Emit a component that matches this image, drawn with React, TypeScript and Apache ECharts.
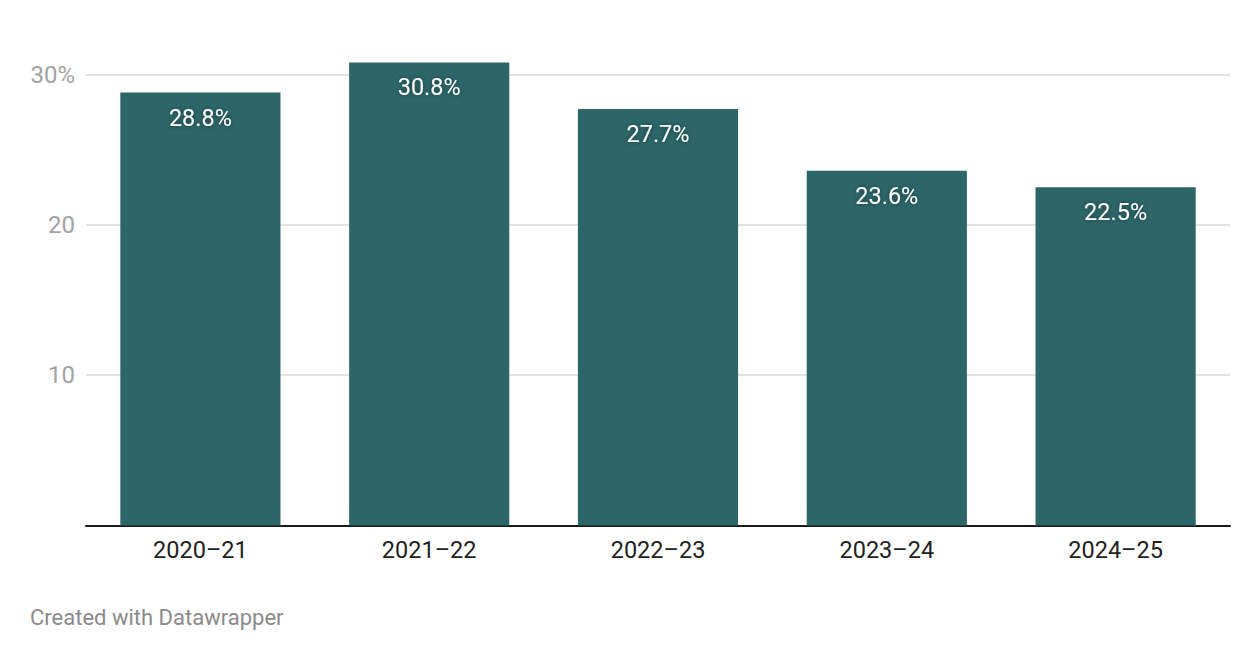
import React, { useEffect, useRef } from "react";
import * as echarts from "echarts";

const categories = ["2020–21", "2021–22", "2022–23", "2023–24", "2024–25"];
const values = [28.8, 30.8, 27.7, 23.6, 22.5];
const yTicks = [0, 10, 20, 30];

export default function App() {
  const ref = useRef<HTMLDivElement>(null);
  useEffect(() => {
    if (!ref.current) return;
    const chart = echarts.init(ref.current, undefined, { renderer: "svg" });
    const font = "Roboto, 'Noto Sans', sans-serif";
    chart.setOption({
      animation: false,
      backgroundColor: "#ffffff",
      grid: { left: 86, right: 30, top: 74.5, bottom: 660 - 525.5, containLabel: false },
      xAxis: {
        type: "category",
        data: categories,
        axisLine: { show: true, lineStyle: { color: "#1a1a1a", width: 2 } },
        axisTick: { show: false },
        axisLabel: { color: "#222222", fontSize: 23.5, fontFamily: font, margin: 12 },
      },
      yAxis: {
        type: "value",
        min: yTicks[0],
        max: yTicks[yTicks.length - 1],
        interval: 10,
        axisLine: { show: false },
        axisTick: { show: false },
        splitLine: { lineStyle: { color: "#e3e3e3", width: 2 } },
        axisLabel: {
          color: "#a3a3a3",
          fontSize: 24,
          fontFamily: font,
          margin: 11,
          formatter: (v: number) => (v === 0 ? "" : v === 30 ? "30%" : String(v)),
        },
      },
      series: [
        {
          type: "bar",
          data: values,
          clip: false,
          barCategoryGap: "30%",
          itemStyle: { color: "#2c6668" },
          label: {
            show: true,
            position: "insideTop",
            distance: 13,
            color: "#ffffff",
            fontSize: 23.5,
            fontFamily: font,
            formatter: (p: any) => p.value.toFixed(1) + "%",
            textShadowColor: "rgba(0,0,0,0.45)",
            textShadowBlur: 4,
          },
        },
      ],
      graphic: [
        {
          type: "text",
          left: 30,
          top: 606,
          style: {
            text: "Created with Datawrapper",
            fill: "#8a8a8a",
            fontSize: 22,
            fontFamily: font,
          },
        },
      ],
    });
    return () => chart.dispose();
  }, []);
  return (
    <div
      ref={ref}
      style={{ position: "fixed", left: 0, top: 0, width: 1260, height: 660 }}
    />
  );
}
